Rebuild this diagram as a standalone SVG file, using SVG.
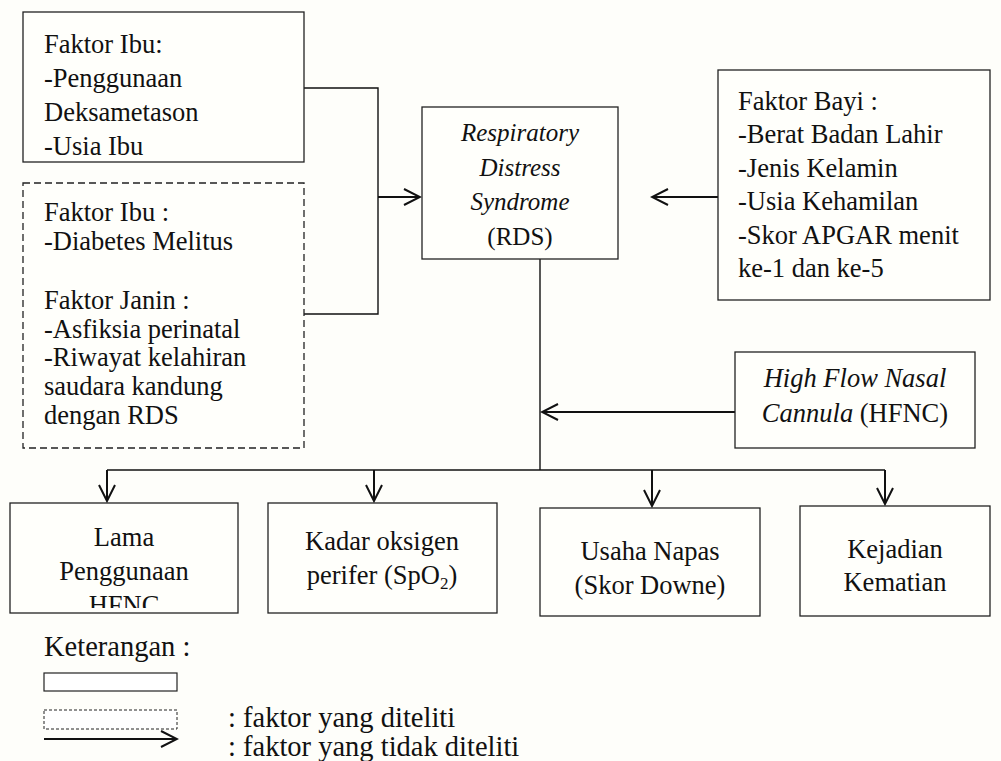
<svg xmlns="http://www.w3.org/2000/svg" width="1001" height="761" viewBox="0 0 1001 761">
<defs>
<style>
text{font-family:'Liberation Serif','Times New Roman',Tinos,'DejaVu Serif',serif;font-size:26.5px;fill:#111}
.c{text-anchor:middle}
.i{font-style:italic}
.rds{font-size:25px}
.lg{font-size:28.5px}
.box{fill:#fffffb;stroke:#222;stroke-width:1.3}
.dash{fill:#fffffb;stroke:#222;stroke-width:1.3;stroke-dasharray:7,4}
.ln{fill:none;stroke:#111;stroke-width:1.4}
.ar{fill:none;stroke:#111;stroke-width:2}
</style>
<marker id="ah" viewBox="0 0 20 20" refX="18" refY="10" markerWidth="20" markerHeight="20" markerUnits="userSpaceOnUse" orient="auto">
<path d="M2,2 L18,10 L2,18" fill="none" stroke="#111" stroke-width="2"/>
</marker>
<clipPath id="clipA"><rect x="10" y="503" width="228" height="105"/></clipPath>
</defs>
<rect width="1001" height="761" fill="#fefefa"/>

<g id="connectors">
<path class="ln" d="M304,88 H378 V314 H304"/>
<line class="ar" x1="378" y1="197" x2="420" y2="197" marker-end="url(#ah)"/>
<line class="ar" x1="718" y1="197" x2="652" y2="197" marker-end="url(#ah)"/>
<line class="ln" x1="540" y1="259" x2="540" y2="470"/>
<line class="ar" x1="735" y1="412" x2="542" y2="412" marker-end="url(#ah)"/>
<line class="ln" x1="107" y1="470" x2="885" y2="470"/>
<line class="ar" x1="107" y1="470" x2="107" y2="501" marker-end="url(#ah)"/>
<line class="ar" x1="374" y1="470" x2="374" y2="501" marker-end="url(#ah)"/>
<line class="ar" x1="652" y1="470" x2="652" y2="506" marker-end="url(#ah)"/>
<line class="ar" x1="885" y1="470" x2="885" y2="504" marker-end="url(#ah)"/>
</g>

<g id="faktor-ibu-1">
<rect class="box" x="23" y="12" width="281" height="150"/>
<text x="44" y="53">Faktor Ibu:</text>
<text x="44" y="87">-Penggunaan</text>
<text x="44" y="121">Deksametason</text>
<text x="44" y="155">-Usia Ibu</text>
</g>

<g id="faktor-ibu-janin">
<rect class="dash" x="23" y="183" width="281" height="265"/>
<text x="44" y="221">Faktor Ibu :</text>
<text x="44" y="250">-Diabetes Melitus</text>
<text x="44" y="309">Faktor Janin :</text>
<text x="44" y="338">-Asfiksia perinatal</text>
<text x="44" y="366">-Riwayat kelahiran</text>
<text x="44" y="395">saudara kandung</text>
<text x="44" y="424">dengan RDS</text>
</g>

<g id="rds">
<rect class="box" x="422" y="107" width="196" height="152"/>
<text class="c i rds" x="520" y="141">Respiratory</text>
<text class="c i rds" x="520" y="176">Distress</text>
<text class="c i rds" x="520" y="210">Syndrome</text>
<text class="c rds" x="520" y="245">(RDS)</text>
</g>

<g id="faktor-bayi">
<rect class="box" x="718" y="70" width="272" height="230"/>
<text x="738" y="110">Faktor Bayi :</text>
<text x="738" y="143">-Berat Badan Lahir</text>
<text x="738" y="177">-Jenis Kelamin</text>
<text x="738" y="210">-Usia Kehamilan</text>
<text x="738" y="244">-Skor APGAR menit</text>
<text x="738" y="277">ke-1 dan ke-5</text>
</g>

<g id="hfnc">
<rect class="box" x="735" y="352" width="240" height="96"/>
<text class="c i" x="855" y="387">High Flow Nasal</text>
<text class="c" x="855" y="422"><tspan class="i">Cannula</tspan> (HFNC)</text>
</g>

<g id="lama">
<rect class="box" x="10" y="503" width="228" height="110"/>
<g clip-path="url(#clipA)">
<text class="c" x="124" y="546">Lama</text>
<text class="c" x="124" y="580">Penggunaan</text>
<text class="c" x="124" y="614">HFNC</text>
</g>
</g>

<g id="kadar">
<rect class="box" x="268" y="503" width="229" height="110"/>
<text class="c" x="382" y="550">Kadar oksigen</text>
<text class="c" x="382" y="584">perifer (SpO<tspan font-size="17" dy="5">2</tspan><tspan dy="-5">)</tspan></text>
</g>

<g id="usaha">
<rect class="box" x="540" y="508" width="220" height="108"/>
<text class="c" x="650" y="560">Usaha Napas</text>
<text class="c" x="650" y="594">(Skor Downe)</text>
</g>

<g id="kematian">
<rect class="box" x="800" y="506" width="190" height="110"/>
<text class="c" x="895" y="558">Kejadian</text>
<text class="c" x="895" y="591">Kematian</text>
</g>

<g id="legend">
<text class="lg" x="44" y="656">Keterangan :</text>
<rect x="44" y="673" width="133" height="18" fill="#fff" stroke="#222" stroke-width="1.2"/>
<rect x="44" y="710" width="133" height="19" fill="#fff" stroke="#222" stroke-width="1" stroke-dasharray="3,2"/>
<line class="ar" x1="44" y1="739" x2="177" y2="739" marker-end="url(#ah)"/>
<text class="lg" x="228" y="727">: faktor yang diteliti</text>
<text class="lg" x="228" y="756">: faktor yang tidak diteliti</text>
</g>
</svg>
